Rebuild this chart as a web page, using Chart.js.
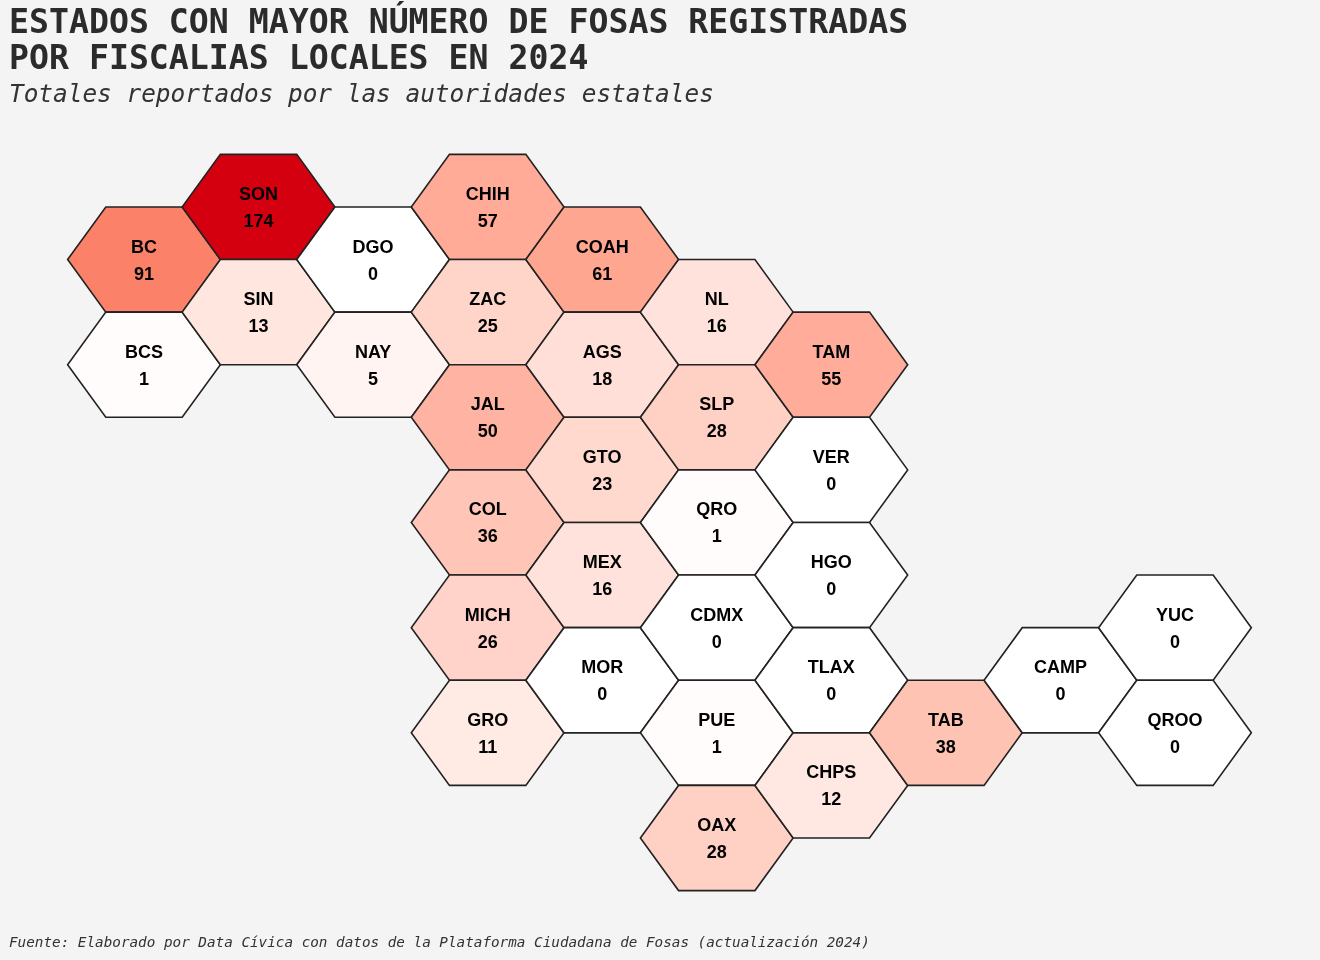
<!DOCTYPE html>
<html>
<head>
<meta charset="utf-8">
<script src="https://cdn.jsdelivr.net/npm/chart.js@4"></script>
<style>
  html, body { margin: 0; padding: 0; background: #f4f4f4; }
  #wrap { width: 1320px; height: 960px; position: relative; }
</style>
</head>
<body>
<div id="wrap"><canvas id="hexMap"></canvas></div>
<script>
// datos por estado
const estados = ["BC","BCS","SON","SIN","DGO","NAY","CHIH","ZAC","JAL","COL","MICH","GRO",
  "COAH","AGS","GTO","MEX","MOR","NL","SLP","QRO","CDMX","PUE","OAX",
  "TAM","VER","HGO","TLAX","CHPS","TAB","CAMP","YUC","QROO"];
const fosas = [91,1,174,13,0,5,57,25,50,36,26,11,
  61,18,23,16,0,16,28,1,0,1,28,
  55,0,0,0,12,38,0,0,0];
// posicion en la malla hexagonal
const columnas = [0,0,1,1,2,2,3,3,3,3,3,3,
  4,4,4,4,4,5,5,5,5,5,5,
  6,6,6,6,6,7,8,9,9];
const filas = [0.5,1.5,0,1,0.5,1.5,0,1,2,3,4,5,
  0.5,1.5,2.5,3.5,4.5,1,2,3,4,5,6,
  1.5,2.5,3.5,4.5,5.5,5,4.5,4,5];

const titulo = ["ESTADOS CON MAYOR NÚMERO DE FOSAS REGISTRADAS", "POR FISCALIAS LOCALES EN 2024"];
const subtitulo = "Totales reportados por las autoridades estatales";
const fuente = "Fuente: Elaborado por Data Cívica con datos de la Plataforma Ciudadana de Fosas (actualización 2024)";

// gradiente blanco -> rojo interpolado en Lab
function toLin(c) { c /= 255; return c <= 0.04045 ? c / 12.92 : Math.pow((c + 0.055) / 1.055, 2.4); }
function fromLin(c) { c = c <= 0.0031308 ? 12.92 * c : 1.055 * Math.pow(c, 1 / 2.4) - 0.055; return Math.max(0, Math.min(255, Math.round(c * 255))); }
function rgb2lab(rgb) {
  const r = toLin(rgb[0]), g = toLin(rgb[1]), b = toLin(rgb[2]);
  let x = (r * 0.4124 + g * 0.3576 + b * 0.1805) / 0.95047;
  let y = (r * 0.2126 + g * 0.7152 + b * 0.0722);
  let z = (r * 0.0193 + g * 0.1192 + b * 0.9505) / 1.08883;
  const f = t => t > 0.008856 ? Math.cbrt(t) : 7.787 * t + 16 / 116;
  x = f(x); y = f(y); z = f(z);
  return [116 * y - 16, 500 * (x - y), 200 * (y - z)];
}
function lab2rgb(lab) {
  let y = (lab[0] + 16) / 116, x = lab[1] / 500 + y, z = y - lab[2] / 200;
  const fi = t => t * t * t > 0.008856 ? t * t * t : (t - 16 / 116) / 7.787;
  x = fi(x) * 0.95047; y = fi(y); z = fi(z) * 1.08883;
  const r = x * 3.2406 + y * -1.5372 + z * -0.4986;
  const g = x * -0.9689 + y * 1.8758 + z * 0.0415;
  const b = x * 0.0557 + y * -0.2040 + z * 1.0570;
  return `rgb(${fromLin(r)},${fromLin(g)},${fromLin(b)})`;
}
const labBajo = rgb2lab([255, 255, 255]);
const labAlto = rgb2lab([213, 0, 15]);
const maxFosas = Math.max(...fosas);
function colorFosas(v) {
  const t = Math.pow(v / maxFosas, 0.83);
  const lab = labBajo.map((c, i) => c + (labAlto[i] - c) * t);
  // un poco mas de croma en los tonos medios
  const k = 1 + 0.1 * Math.sin(Math.PI * t);
  return lab2rgb([lab[0], lab[1] * k, lab[2] * k]);
}

const hexPlugin = {
  id: 'hexPlugin',
  afterDatasetsDraw(chart) {
    const ctx = chart.ctx;
    const xs = chart.scales.x, ys = chart.scales.y;
    const meta = chart.getDatasetMeta(0);
    ctx.save();
    meta.data.forEach((pt, i) => {
      const cx = columnas[i], cy = filas[i];
      const verts = [[cx - 2 / 3, cy], [cx - 1 / 3, cy - 0.5], [cx + 1 / 3, cy - 0.5],
        [cx + 2 / 3, cy], [cx + 1 / 3, cy + 0.5], [cx - 1 / 3, cy + 0.5]];
      ctx.beginPath();
      verts.forEach((v, k) => {
        const px = xs.getPixelForValue(v[0]), py = ys.getPixelForValue(v[1]);
        if (k === 0) ctx.moveTo(px, py); else ctx.lineTo(px, py);
      });
      ctx.closePath();
      ctx.fillStyle = colorFosas(fosas[i]);
      ctx.fill();
      ctx.lineWidth = 1.6;
      ctx.strokeStyle = '#222';
      ctx.lineJoin = 'miter';
      ctx.stroke();
    });
    ctx.fillStyle = '#000';
    ctx.font = 'bold 18px "Liberation Sans", Arial, sans-serif';
    ctx.textAlign = 'center';
    ctx.textBaseline = 'middle';
    meta.data.forEach((pt, i) => {
      ctx.fillText(estados[i], pt.x, pt.y - 12);
      ctx.fillText(String(fosas[i]), pt.x, pt.y + 15);
    });

    // textos
    ctx.textAlign = 'left';
    ctx.textBaseline = 'alphabetic';
    ctx.fillStyle = '#2b2b2b';
    ctx.font = 'bold 33.2px "DejaVu Sans Mono", monospace';
    ctx.fillText(titulo[0], 9, 33);
    ctx.fillText(titulo[1], 9, 69);
    ctx.fillStyle = '#333';
    ctx.font = 'italic 24.4px "DejaVu Sans Mono", monospace';
    ctx.fillText(subtitulo, 9, 102);
    ctx.font = 'italic 14.3px "DejaVu Sans Mono", monospace';
    ctx.fillText(fuente, 9, 947);
    ctx.restore();
  }
};

new Chart(document.getElementById('hexMap'), {
  type: 'scatter',
  data: {
    labels: estados,
    datasets: [{
      data: columnas.map((c, i) => ({ x: c, y: filas[i] })),
      pointRadius: 0,
      pointHoverRadius: 0
    }]
  },
  options: {
    responsive: true,
    maintainAspectRatio: false,
    animation: false,
    layout: { padding: 0 },
    plugins: { legend: { display: false }, tooltip: { enabled: false } },
    scales: {
      x: { type: 'linear', display: false, min: -1.257, max: 10.266 },
      y: { type: 'linear', display: false, reverse: true, min: -1.968, max: 7.160 }
    }
  },
  plugins: [hexPlugin]
});
</script>
</body>
</html>
